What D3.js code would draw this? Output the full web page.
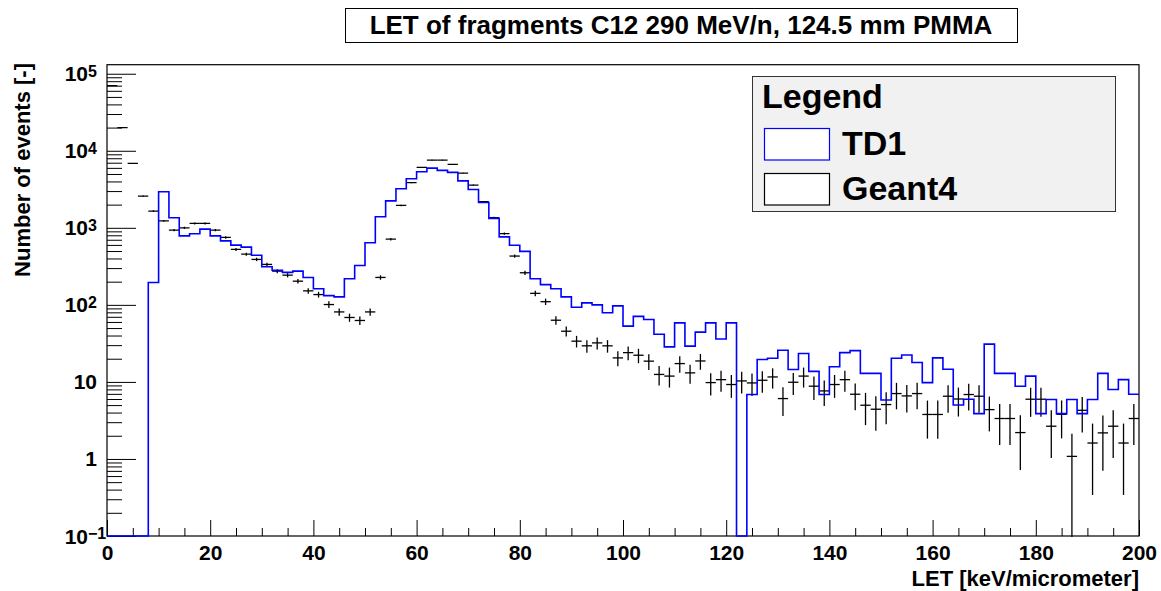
<!DOCTYPE html>
<html>
<head>
<meta charset="utf-8">
<script src="https://cdn.jsdelivr.net/npm/d3@7"></script>
<style>
  body { margin: 0; background: #fff; }
  svg { display: block; }
  text { font-family: "Liberation Sans", Arial, Helvetica, sans-serif; font-weight: bold; fill: #000; }
</style>
</head>
<body>
<svg id="chart" width="1161" height="591"></svg>
<script>
// LET spectra, 2 keV/um bins from 0 to 200
const binWidth = 2;
const binLowEdges = d3.range(0, 200, binWidth);

// TD1 histogram contents (0 = empty bin)
const td1Counts = [
  0, 0, 0, 0, 195, 2940, 1350, 787, 836, 962,
  787, 678, 596, 561, 441, 312, 282, 264, 274, 227,
  162, 132, 127, 218, 324, 640, 1390, 2240, 3210, 4330,
  5340, 5960, 5560, 5240, 4070, 3150, 2130, 1325, 764, 595,
  494, 218, 183, 162, 127, 93, 106, 100, 79, 97,
  53, 71, 64.5, 41.6, 28.5, 58.3, 29.1, 44.3, 58.3, 36.1,
  58.3, 0, 6.86, 19.5, 20.3, 25.8, 14.5, 23.4, 13.7, 6.86,
  15.7, 24, 25.5, 12.9, 12.9, 5.83, 20.3, 22.4, 17.9, 9.8,
  20.5, 14.6, 5.02, 5.96, 3.88, 30.9, 12.9, 12.9, 8.8, 11.9,
  3.88, 5.9, 3.88, 5.9, 3.88, 5.9, 12.9, 7.96, 10.7, 6.92
];

// Geant4 histogram contents
const geant4Counts = [
  70000, 20000, 6860, 2580, 1650, 1230, 933, 1000, 1140, 1140,
  933, 750, 524, 455, 389, 335, 274, 243, 203, 152,
  136, 101, 81, 68.6, 62.7, 81, 227, 713, 1955, 3850,
  6090, 7570, 7570, 6650, 5130, 3590, 2180, 1360, 840, 430,
  261, 141, 110, 63.2, 45.5, 33.8, 29.4, 32.1, 29.4, 20.5,
  24, 22.2, 18.6, 12.5, 11.9, 17.3, 13.1, 18.7, 9.8, 10.7,
  9.25, 10.3, 9.7, 10.5, 11.6, 6.08, 9.9, 11.9, 8.8, 7.64,
  9.25, 10.7, 6.92, 4.98, 4.42, 5.08, 7.06, 6.58, 7.06, 3.78,
  3.78, 6.52, 6.0, 6.86, 6.52, 4.37, 3.35, 3.35, 2.2, 5.96,
  5.96, 2.66, 3.8, 1.08, 4.28, 1.61, 2.18, 2.66, 1.61, 3.35
];
// Poisson errors on the Geant4 counts
const geant4Errors = geant4Counts.map(Math.sqrt);

// Axis ticks
const xMajorTicks = d3.range(0, 201, 20);
const xMinorTicks = d3.range(0, 201, 5).filter(v => v % 20 !== 0);
const yDecades = [0.1, 1, 10, 100, 1000, 10000, 100000];
const yDecadeLabels = [["10", "\u22121"], ["1", null], ["10", null], ["10", "2"], ["10", "3"], ["10", "4"], ["10", "5"]];
const yMinorTicks = [];
[0.1, 1, 10, 100, 1000, 10000].forEach(d => { for (let m = 2; m <= 9; m++) yMinorTicks.push(d * m); });

const titleText = "LET of fragments C12 290 MeV/n, 124.5 mm PMMA";
const xTitle = "LET [keV/micrometer]";
const yTitle = "Number of events [-]";
const legendTitle = "Legend";
const seriesNames = ["TD1", "Geant4"];
const seriesColors = ["#0000ff", "#000000"];

// Frame and scales
const plot = { left: 107, right: 1139, top: 64.7, bottom: 536 };
const x = d3.scaleLinear().domain([0, 200]).range([plot.left, plot.right]);
const y = d3.scaleLog().domain([0.1, 1.31e5]).range([plot.bottom, plot.top]);

const svg = d3.select("#chart");

svg.append("defs").append("clipPath").attr("id", "plotClip")
  .append("rect")
  .attr("x", plot.left).attr("y", plot.top - 1)
  .attr("width", plot.right - plot.left).attr("height", plot.bottom - plot.top + 2);

// Title box
svg.append("rect")
  .attr("x", 345.5).attr("y", 8.5).attr("width", 672).attr("height", 34)
  .attr("fill", "#fff").attr("stroke", "#000").attr("stroke-width", 1);
svg.append("text")
  .attr("x", 681).attr("y", 34)
  .attr("text-anchor", "middle").attr("font-size", 26)
  .text(titleText);

// X axis: major and minor ticks pointing inward
function styleAxis(g) {
  g.select(".domain").remove();
  g.attr("font-family", null).attr("font-size", null);
  g.selectAll(".tick line").attr("stroke", "#000").attr("stroke-width", 1);
}
const gxMajor = svg.append("g").attr("transform", `translate(0,${plot.bottom})`)
  .call(d3.axisBottom(x).tickValues(xMajorTicks).tickSize(-16).tickPadding(9).tickFormat(d3.format("d")));
styleAxis(gxMajor);
gxMajor.selectAll(".tick text").attr("font-size", 21).attr("fill", "#000");

const gxMinor = svg.append("g").attr("transform", `translate(0,${plot.bottom})`)
  .call(d3.axisBottom(x).tickValues(xMinorTicks).tickSize(-8).tickFormat(""));
styleAxis(gxMinor);

// Y axis: decades and minor ticks pointing inward
const gyMajor = svg.append("g").attr("transform", `translate(${plot.left},0)`)
  .call(d3.axisLeft(y).tickValues(yDecades).tickSize(-29).tickFormat(""));
styleAxis(gyMajor);
const gyMinor = svg.append("g").attr("transform", `translate(${plot.left},0)`)
  .call(d3.axisLeft(y).tickValues(yMinorTicks).tickSize(-15).tickFormat(""));
styleAxis(gyMinor);

// Decade labels with superscript exponents
const yLab = svg.append("g");
yDecades.forEach((v, i) => {
  const [base, exp] = yDecadeLabels[i];
  const yy = y(v) + 7.5;
  if (exp === null) {
    yLab.append("text").attr("x", 97).attr("y", yy)
      .attr("text-anchor", "end").attr("font-size", 21).text(base);
  } else {
    yLab.append("text").attr("x", 88).attr("y", yy)
      .attr("text-anchor", "end").attr("font-size", 21).text(base);
    yLab.append("text").attr("x", 88).attr("y", yy - 4.5)
      .attr("text-anchor", "start").attr("font-size", 16).text(exp);
  }
});

// Frame
svg.append("rect")
  .attr("x", plot.left).attr("y", plot.top)
  .attr("width", plot.right - plot.left).attr("height", plot.bottom - plot.top)
  .attr("fill", "none").attr("stroke", "#000").attr("stroke-width", 1.2);

// Axis titles
svg.append("text")
  .attr("x", plot.right).attr("y", 586)
  .attr("text-anchor", "end").attr("font-size", 22)
  .text(xTitle);
svg.append("text")
  .attr("transform", "translate(30,63) rotate(-90)")
  .attr("text-anchor", "end").attr("font-size", 22)
  .text(yTitle);

const plotArea = svg.append("g").attr("clip-path", "url(#plotClip)");

// Geant4: horizontal bin-width bars with vertical Poisson error bars
const g4 = plotArea.append("g").attr("stroke", seriesColors[1]).attr("stroke-width", 1.3);
geant4Counts.forEach((v, i) => {
  if (v <= 0) return;
  const x0 = x(binLowEdges[i]), x1 = x(binLowEdges[i] + binWidth), xc = (x0 + x1) / 2;
  const lo = v - geant4Errors[i];
  const yLo = lo > 0 ? y(lo) : plot.bottom + 2;
  g4.append("line").attr("x1", x0).attr("x2", x1).attr("y1", y(v)).attr("y2", y(v));
  g4.append("line").attr("x1", xc).attr("x2", xc).attr("y1", y(v + geant4Errors[i])).attr("y2", yLo);
});

// TD1: step outline, empty bins drop to the bottom of the frame
const yStep = v => (v > 0 ? y(v) : plot.bottom);
let d = `M${x(binLowEdges[0])},${yStep(td1Counts[0])}`;
td1Counts.forEach((v, i) => {
  d += `H${x(binLowEdges[i] + binWidth)}`;
  if (i + 1 < td1Counts.length) d += `V${yStep(td1Counts[i + 1])}`;
});
plotArea.append("path").attr("d", d)
  .attr("fill", "none").attr("stroke", seriesColors[0]).attr("stroke-width", 1.6);

// Legend
const leg = svg.append("g");
leg.append("rect")
  .attr("x", 752.5).attr("y", 76.5).attr("width", 363).attr("height", 135)
  .attr("fill", "#f1f1f1").attr("stroke", "#333").attr("stroke-width", 1);
leg.append("text").attr("x", 762).attr("y", 108).attr("font-size", 34).text(legendTitle);
const entryY = [128.5, 173.5];
seriesNames.forEach((name, i) => {
  leg.append("rect")
    .attr("x", 764.5).attr("y", entryY[i]).attr("width", 65).attr("height", 31.5)
    .attr("fill", "#fff").attr("stroke", seriesColors[i]).attr("stroke-width", 1.2);
  leg.append("text").attr("x", 842).attr("y", entryY[i] + 26).attr("font-size", 34).text(name);
});
</script>
</body>
</html>
